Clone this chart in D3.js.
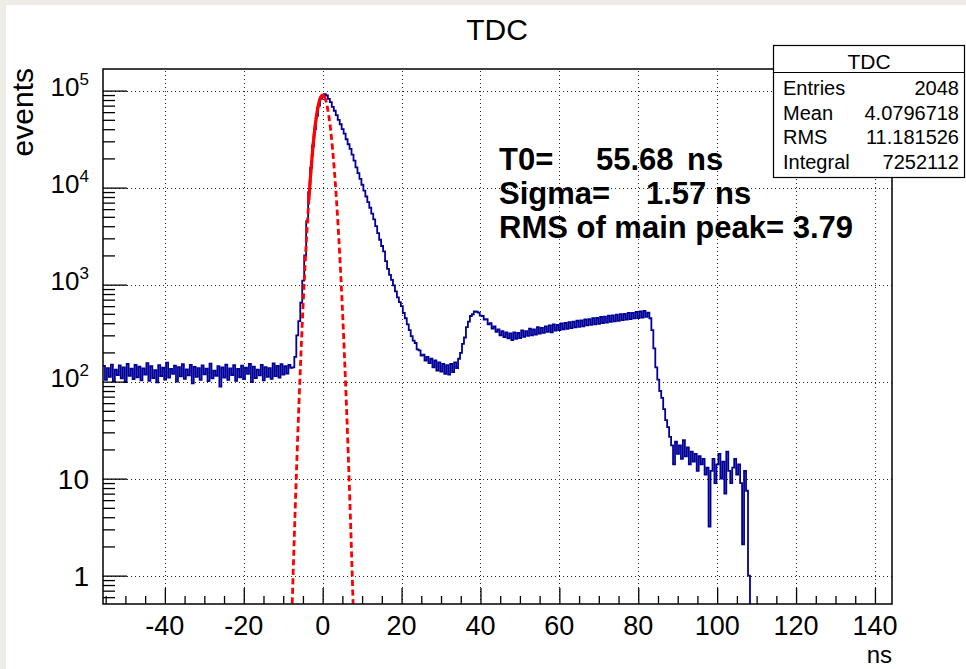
<!DOCTYPE html>
<html>
<head>
<meta charset="utf-8">
<script src="https://cdn.jsdelivr.net/npm/d3@7"></script>
<style>
body { margin: 0; background: #edece5; }
text { font-family: "Liberation Sans", Arial, Helvetica, sans-serif; fill: #000; }
</style>
</head>
<body>
<svg id="canvas" width="966" height="669"></svg>
<script>
// TDC histogram, time shifted by T0. Counts, 0.5 ns bins
var binLow = -55.68, binWidth = 0.5;

// flat random background before the peak (-55.7 .. -7.7 ns)
var baseline = [
  145,104,138,112,150,101,133,117,147,108,
  140,99,152,115,136,106,149,111,143,103,
  137,118,155,102,144,109,131,98,148,114,
  139,105,157,110,135,120,146,100,141,113,
  151,107,134,116,149,96,142,112,138,104,
  147,119,136,101,153,108,130,115,144,89,
  140,110,150,104,137,117,148,102,135,111,
  146,106,139,120,152,99,143,109,133,116,
  149,103,141,112,138,107,154,114,145,110,
  151,118,144,121,149,139
];
// main peak and its slow falling edge
var mainPeak = [
  140,180,300,420,650,1100,2000,4500,9000,16000,
  27000,40000,55000,70000,82000,89000,92000,89000,82000,76000,
  68000,62000,56000,50000,45000,40000,36000,31500,28000,25100,
  21900,19000,16200,14100,12300,10700,9300,8100,7100,6200,
  5400,4700,4000,3400,2900,2500,2200,1750,1450,1260,
  1120,980,850,740,660,600,510,450,390,340,
  295,265,250,215,210,185,190,165,180,155
];
// valley and the second bump around 40 ns
var secondPeak = [
  172,140,165,130,158,127,152,120,148,118,
  152,125,158,138,172,198,245,285,365,415,
  475,495,530,525,515,480,475,435,440,390,
  400,352,372,325,345,300,332,288,322,280
];
// slowly rising plateau up to ~83 ns
var plateau = [
  315,268,322,276,318,281,338,290,332,296,
  352,300,345,305,365,312,358,318,372,325,
  380,322,388,335,385,340,398,345,402,350,
  410,356,415,362,425,366,428,372,438,380,
  440,385,452,390,455,395,465,400,468,405,
  478,412,482,418,490,422,495,430,500,435,
  510,440,512,448,522,452,528,458,535,465,
  515,450
];
// fall off and noisy tail, last bin empty
var tail = [
  340,220,140,105,80,68,52,40,34,27,
  22,14,24,18,22,16,25,17,21,14,
  19,15,18,12,17,14,16,11,13,3.2,
  12,16,9,14,18,10,15,7,19,12,
  9,13,16,11,14,9,2.1,12,7.5,1.0,
  0
];

// gaussian fit (dashed red), sampled every 0.5 ns
var fitX = [-8,-7.5,-7,-6.5,-6,-5.5,-5,-4.5,-4,-3.5,-3,-2.5,-2,-1.5,-1,-0.5,0,
            0.5,1,1.5,2,2.5,3,3.5,4,4.5,5,5.5,6,6.5,7,7.5,8];
var fitY = [0.21,1.0,4.35,17.1,60.7,195,565,1480,3500,7500,14500,25300,40000,57000,73500,85500,90000,
            85500,73500,57000,40000,25300,14500,7500,3500,1480,565,195,60.7,17.1,4.35,1.0,0.21];
var fitRange = [-3.5, 0.5];

var xTicks = [-40, -20, 0, 20, 40, 60, 80, 100, 120, 140];
var yTicks = [1, 10, 100, 1000, 10000, 100000];
var yTickLabels = [["1", ""], ["10", ""], ["10", "2"], ["10", "3"], ["10", "4"], ["10", "5"]];

var statNames = ["Entries", "Mean", "RMS", "Integral"];
var statValues = ["2048", "4.0796718", "11.181526", "7252112"];

var svg = d3.select("#canvas");

// white pad on the grey window
svg.append("rect").attr("x", 6).attr("y", 5).attr("width", 960).attr("height", 664).attr("fill", "#fff");

var frame = { left: 103, right: 892, top: 69, bottom: 604 };

var x = d3.scaleLinear().domain([-55.68, 144.32]).range([frame.left, frame.right]);
var y = d3.scaleLog().domain([0.51, 1.67e5]).range([frame.bottom, frame.top]);

svg.append("clipPath").attr("id", "plotclip")
  .append("rect")
  .attr("x", frame.left).attr("y", frame.top)
  .attr("width", frame.right - frame.left).attr("height", frame.bottom - frame.top);

// dotted grid
var grid = svg.append("g")
  .attr("stroke", "#222").attr("stroke-width", 1).attr("stroke-dasharray", "1,3");
grid.selectAll(".gx").data(xTicks).enter().append("line")
  .attr("x1", function(d) { return Math.round(x(d)) + 0.5; })
  .attr("x2", function(d) { return Math.round(x(d)) + 0.5; })
  .attr("y1", frame.bottom).attr("y2", frame.top);
grid.selectAll(".gy").data(yTicks).enter().append("line")
  .attr("y1", function(d) { return Math.round(y(d)) + 0.5; })
  .attr("y2", function(d) { return Math.round(y(d)) + 0.5; })
  .attr("x1", frame.left).attr("x2", frame.right);

// histogram as steps
var counts = baseline.concat(mainPeak, secondPeak, plateau, tail);
var pts = [];
counts.forEach(function(c, i) {
  var lo = binLow + i * binWidth;
  if (c > 0) {
    pts.push([x(lo), y(c)]);
    pts.push([x(lo + binWidth), y(c)]);
  } else {
    pts.push([x(lo), frame.bottom]);
  }
});

var plot = svg.append("g").attr("clip-path", "url(#plotclip)");

plot.append("path")
  .attr("d", d3.line()(pts))
  .attr("fill", "none")
  .attr("stroke", "#000099")
  .attr("stroke-width", 1.8)
  .attr("stroke-linejoin", "miter");

var fitPts = fitX.map(function(d, i) { return [d, fitY[i]]; });
var fitLine = d3.line()
  .x(function(d) { return x(d[0]); })
  .y(function(d) { return y(d[1]); })
  .curve(d3.curveCatmullRom);

plot.append("path")
  .attr("d", fitLine(fitPts))
  .attr("fill", "none")
  .attr("stroke", "#ff0000")
  .attr("stroke-width", 2.8)
  .attr("stroke-dasharray", "6,3.5");

// solid part over the fit range
plot.append("path")
  .attr("d", fitLine(fitPts.filter(function(d) { return d[0] >= fitRange[0] && d[0] <= fitRange[1]; })))
  .attr("fill", "none")
  .attr("stroke", "#ff0000")
  .attr("stroke-width", 3.2);

// ticks (inside the frame like ROOT)
function noDomain(g) { g.select(".domain").remove(); }

var xMinor = d3.range(-55, 145, 5).filter(function(d) { return d % 20 !== 0; });
svg.append("g").attr("transform", "translate(0," + frame.bottom + ")")
  .call(d3.axisBottom(x).tickValues(xTicks).tickSize(-16).tickSizeOuter(0).tickFormat(""))
  .call(noDomain);
svg.append("g").attr("transform", "translate(0," + frame.bottom + ")")
  .call(d3.axisBottom(x).tickValues(xMinor).tickSize(-8).tickSizeOuter(0).tickFormat(""))
  .call(noDomain);

var yMinor = [];
[-1, 0, 1, 2, 3, 4, 5].forEach(function(e) {
  for (var k = 2; k <= 9; k++) {
    var v = k * Math.pow(10, e);
    if (v > y.domain()[0] && v < y.domain()[1]) yMinor.push(v);
  }
});
svg.append("g").attr("transform", "translate(" + frame.left + ",0)")
  .call(d3.axisLeft(y).tickValues(yTicks).tickSize(-24).tickSizeOuter(0).tickFormat(""))
  .call(noDomain);
svg.append("g").attr("transform", "translate(" + frame.left + ",0)")
  .call(d3.axisLeft(y).tickValues(yMinor).tickSize(-12).tickSizeOuter(0).tickFormat(""))
  .call(noDomain);
svg.selectAll(".tick line").attr("stroke", "#000").attr("stroke-width", 1.3);

// frame
svg.append("rect")
  .attr("x", frame.left).attr("y", frame.top)
  .attr("width", frame.right - frame.left).attr("height", frame.bottom - frame.top)
  .attr("fill", "none").attr("stroke", "#000").attr("stroke-width", 1.5);

// tick labels
svg.selectAll(".xl").data(xTicks).enter().append("text")
  .attr("x", function(d) { return x(d); })
  .attr("y", 635)
  .attr("text-anchor", "middle")
  .style("font-size", "27px")
  .text(function(d) { return d; });

var yl = svg.selectAll(".yl").data(yTicks).enter().append("text")
  .attr("x", 89)
  .attr("y", function(d, i) { return y(d) + (yTickLabels[i][1] ? 5 : 10); })
  .attr("text-anchor", "end")
  .style("font-size", function(d, i) { return yTickLabels[i][1] ? "26px" : "28px"; });
yl.append("tspan").text(function(d, i) { return yTickLabels[i][0]; });
yl.append("tspan")
  .attr("dy", -11)
  .style("font-size", "17px")
  .text(function(d, i) { return yTickLabels[i][1]; });

// titles
svg.append("text").attr("x", 497).attr("y", 40).attr("text-anchor", "middle")
  .style("font-size", "30px").text("TDC");
svg.append("text").attr("transform", "translate(33,68) rotate(-90)")
  .attr("text-anchor", "end").style("font-size", "30px").text("events");
svg.append("text").attr("x", frame.right).attr("y", 663).attr("text-anchor", "end")
  .style("font-size", "24px").text("ns");

// fit results
var fitText = svg.append("g").style("font-size", "31px").style("font-weight", "bold");
fitText.append("text").attr("x", 499).attr("y", 170).text("T0=");
fitText.append("text").attr("x", 596).attr("y", 170).text("55.68");
fitText.append("text").attr("x", 687).attr("y", 170).text("ns");
fitText.append("text").attr("x", 499).attr("y", 204).text("Sigma=");
fitText.append("text").attr("x", 646).attr("y", 204).text("1.57 ns");
fitText.append("text").attr("x", 499).attr("y", 238).text("RMS of main peak= 3.79");

// stats box
var stats = svg.append("g");
stats.append("rect").attr("x", 773.5).attr("y", 45.5).attr("width", 191).attr("height", 132)
  .attr("fill", "#fff").attr("stroke", "#000").attr("stroke-width", 1.2);
stats.append("line").attr("x1", 773.5).attr("x2", 964.5).attr("y1", 72.5).attr("y2", 72.5)
  .attr("stroke", "#000").attr("stroke-width", 1.2);
stats.append("text").attr("x", 869).attr("y", 69).attr("text-anchor", "middle")
  .style("font-size", "21px").text("TDC");
stats.selectAll(".sn").data(statNames).enter().append("text")
  .attr("x", 783).attr("y", function(d, i) { return 95 + i * 24.5; })
  .style("font-size", "20px").text(function(d) { return d; });
stats.selectAll(".sv").data(statValues).enter().append("text")
  .attr("x", 959).attr("y", function(d, i) { return 95 + i * 24.5; })
  .attr("text-anchor", "end")
  .style("font-size", "20px").text(function(d) { return d; });
</script>
</body>
</html>
